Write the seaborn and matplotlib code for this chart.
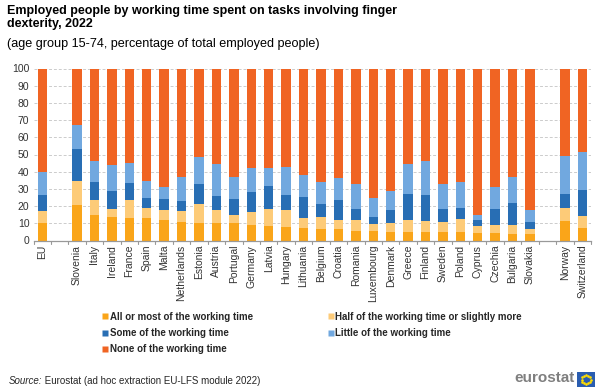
import numpy as np
import pandas as pd
import matplotlib
matplotlib.use("Agg")
import matplotlib.pyplot as plt
import seaborn as sns
from matplotlib.lines import Line2D

countries = ["EU", "Slovenia", "Italy", "Ireland", "France", "Spain", "Malta",
             "Netherlands", "Estonia", "Austria", "Portugal", "Germany", "Latvia",
             "Hungary", "Lithuania", "Belgium", "Croatia", "Romania", "Luxembourg",
             "Denmark", "Greece", "Finland", "Sweden", "Poland", "Cyprus", "Czechia",
             "Bulgaria", "Slovakia", "Norway", "Switzerland"]
groups = [0] + [1] * 27 + [2, 2]

all_most = [10.0, 20.7, 14.7, 13.7, 13.2, 12.8, 11.7, 10.9, 10.1, 9.9, 9.9, 9.3, 8.5,
            7.8, 7.2, 6.8, 6.6, 5.8, 5.8, 5.2, 5.0, 5.0, 4.7, 4.7, 4.3, 4.1, 3.7, 3.7,
            11.3, 7.4]
half = [7.0, 13.8, 8.8, 4.8, 10.1, 6.2, 5.8, 6.2, 11.3, 7.6, 5.1, 7.0, 9.9,
        10.1, 6.0, 6.6, 5.2, 6.0, 3.9, 4.9, 7.0, 6.3, 6.0, 7.7, 4.2, 4.8, 5.6, 2.7,
        7.7, 6.8]
some = [9.5, 18.5, 10.5, 10.5, 10.1, 5.7, 6.4, 5.6, 11.2, 8.3, 9.0, 11.9, 13.4,
        8.3, 12.0, 7.8, 11.9, 6.6, 3.9, 7.8, 15.2, 14.9, 7.7, 6.6, 3.5, 9.7, 12.4, 4.3,
        7.8, 14.9]
little = [13.5, 14.0, 12.0, 15.0, 11.6, 10.1, 7.1, 14.4, 15.7, 18.9, 13.0, 13.9, 10.3,
          16.3, 12.7, 13.0, 12.6, 14.6, 11.1, 10.8, 17.5, 20.2, 14.4, 15.2, 2.6, 12.3, 15.0, 7.0,
          22.3, 22.6]
none_ = [60.0, 33.0, 54.0, 56.0, 55.0, 65.2, 69.0, 62.9, 51.7, 55.3, 63.0, 57.9, 57.9,
         57.5, 62.1, 65.8, 63.7, 67.0, 75.3, 71.3, 55.3, 53.6, 67.2, 65.8, 85.4, 69.1, 63.3, 82.3,
         50.9, 48.3]

series_names = ["All or most of the working time", "Half of the working time or slightly more",
                "Some of the working time", "Little of the working time",
                "None of the working time"]
series_vals = [all_most, half, some, little, none_]
colors = ["#FAA519", "#FDCB78", "#286EB4", "#71A8DF", "#F06423"]

# positions with gaps between groups
pos = [i + g for i, g in enumerate(groups)]

df = pd.DataFrame({"country": countries, "pos": pos})
cum = np.zeros(len(countries))
cums = []
for v in series_vals:
    cum = cum + np.array(v)
    cums.append(cum.copy())

sns.set_style("white")
plt.rcParams["font.family"] = ["Liberation Sans", "DejaVu Sans"]

fig = plt.figure(figsize=(6, 3.9), dpi=100)
ax = fig.add_axes([33.5 / 600, 1 - 240.5 / 390, (591 - 33.5) / 600, (240.5 - 68.5) / 390])

# draw from the top (cumulative) down so each layer shows
for k in range(len(series_vals) - 1, -1, -1):
    d = df.copy()
    d["val"] = cums[k]
    sns.barplot(data=d, x="pos", y="val", native_scale=True, color=colors[k],
                width=0.54, saturation=1, ax=ax, edgecolor="none", linewidth=0,
                zorder=3)

ax.set_xlim(-0.5, max(pos) + 0.5)
ax.set_ylim(0, 100)
ax.set_yticks(np.arange(0, 101, 10))
ax.set_yticklabels([str(v) for v in range(0, 101, 10)], fontsize=7.5, color="#333333")
ax.set_xticks(pos)
ax.set_xticklabels(countries, rotation=90, fontsize=7.5, color="#333333")
ax.tick_params(axis="x", length=0, pad=3)
ax.tick_params(axis="y", length=0, pad=3)
# boundary tick marks
bounds = np.arange(-0.5, max(pos) + 1.0, 1.0)
for b in bounds:
    ax.plot([b, b], [0, -1.8], color="#999999", lw=0.8, clip_on=False, zorder=4)
ax.set_xlabel("")
ax.set_ylabel("")
ax.grid(axis="y", color="#cccccc", linestyle=(0, (3, 2)), linewidth=0.7, zorder=0)
ax.set_axisbelow(True)
for s in ["top", "right", "left"]:
    ax.spines[s].set_visible(False)
ax.spines["bottom"].set_color("#999999")
ax.spines["bottom"].set_linewidth(0.9)
ax.spines["bottom"].set_zorder(5)

# titles
fig.text(7 / 600, 1 - 5 / 390, "Employed people by working time spent on tasks involving finger\ndexterity, 2022",
         fontsize=9, fontweight="bold", va="top", ha="left", linespacing=1.15, color="#000000")
fig.text(7 / 600, 1 - 38.5 / 390, "(age group 15-74, percentage of total employed people)",
         fontsize=9.1, va="top", ha="left", color="#000000")

# legend (row-wise order)
order = [0, 2, 4, 1, 3]
handles = [Line2D([0], [0], marker="s", color="none", markerfacecolor=colors[i],
                  markeredgecolor="none", markersize=4) for i in order]
labels = [series_names[i] for i in order]
fig.legend(handles, labels, ncol=2, loc="upper left", bbox_to_anchor=(98 / 600, 1 - 308 / 390),
           frameon=False, prop={"size": 7, "weight": "bold"}, handlelength=0.6,
           handletextpad=0.2, columnspacing=7.7, labelspacing=0.62, borderaxespad=0)

# source
t1 = fig.text(9 / 600, 1 - 381 / 390, "Source:", fontsize=7, style="italic", va="center", ha="left")
ax.annotate(" Eurostat (ad hoc extraction EU-LFS module 2022)", xy=(1, 0.5), xycoords=t1,
            va="center", ha="left", fontsize=7, annotation_clip=False)

# eurostat logo
fig.text(575 / 600, 1 - 378.5 / 390, "eurostat", fontsize=11, fontweight="bold",
         color="#7f7f7f", va="center", ha="right")
lax = fig.add_axes([577 / 600, 1 - 387 / 390, 18 / 600, 15 / 390])
lax.set_xlim(0, 18)
lax.set_ylim(0, 15)
lax.add_patch(plt.Rectangle((0, 0), 18, 15, color="#2a5db0"))
th = np.linspace(0, 2 * np.pi, 13)[:-1]
lax.scatter(9 + 4.5 * np.cos(th), 7.5 + 4.5 * np.sin(th), s=0.8, color="#ffdd00", zorder=3)
lax.axis("off")

fig.savefig("out.png", dpi=100)
